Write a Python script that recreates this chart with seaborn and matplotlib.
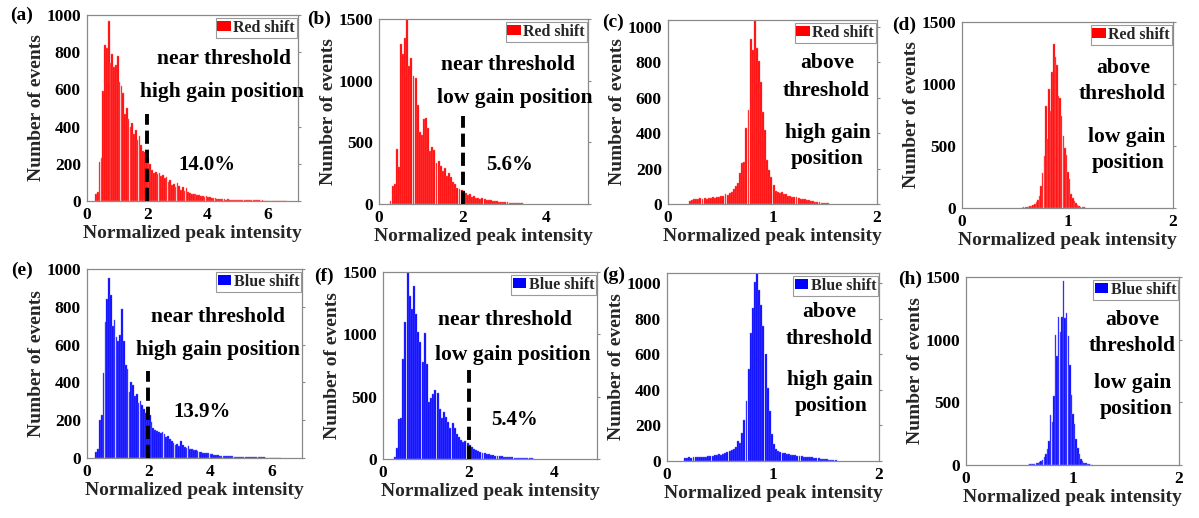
import numpy as np
import pandas as pd
import matplotlib
matplotlib.use("Agg")
import matplotlib.pyplot as plt
from matplotlib.patches import Patch
import seaborn as sns

# ---------------------------------------------------------------------------
# Histogram data: first bin centre, bin width and counts per bin for each panel
# ---------------------------------------------------------------------------
a_start, a_width = 0.30, 0.06
a_counts = [40, 48, 210, 230, 590, 840, 820, 970, 740, 790, 720, 730, 780, 640,
            620, 580, 470, 500, 440, 400, 420, 360, 380, 330, 350, 300, 270, 265,
            245, 230, 200, 165, 150, 155, 145, 150, 135, 140, 125, 130, 100, 115,
            85, 90, 75, 95, 80, 60, 75, 55, 70, 50, 45, 40, 38, 35, 30, 32, 25,
            28, 22, 25, 20, 22, 18, 15, 16, 12, 13, 10, 10, 9, 8, 9, 7, 8, 6, 7,
            6, 5, 6, 5, 4, 5, 4, 4, 3, 4, 3, 3, 3, 2, 3, 2, 2, 2, 2, 1, 2, 1, 1,
            1, 1, 1, 1, 1]

b_start, b_width = 0.275, 0.05
b_counts = [25, 150, 160, 450, 300, 1300, 1220, 1350, 1500, 1120, 1180, 1040,
            1020, 800, 580, 560, 690, 700, 620, 430, 460, 440, 330, 350, 310,
            270, 290, 230, 250, 220, 180, 160, 130, 120, 115, 100, 90, 75, 80,
            60, 65, 50, 52, 42, 45, 38, 35, 30, 32, 26, 25, 22, 20, 18, 17, 14,
            14, 12, 11, 9, 9, 7, 6, 5]

c_start, c_width = 0.21, 0.02
c_counts = [18, 25, 28, 30, 27, 32, 30, 35, 28, 34, 33, 38, 36, 42, 40, 48, 45,
            55, 52, 62, 70, 85, 100, 120, 175, 230, 240, 430, 530, 930, 870,
            1060, 880, 810, 690, 520, 420, 250, 190, 150, 105, 75, 70, 62, 68,
            55, 58, 48, 45, 42, 40, 38, 35, 30, 28, 26, 22, 20, 17, 15, 13, 11,
            10, 8, 6, 5, 3]

d_start, d_width = 0.57, 0.015
d_counts = [4, 5, 6, 8, 10, 14, 18, 25, 35, 45, 65, 95, 180, 280, 420, 820, 560,
            960, 780, 1100, 1320, 1220, 1150, 900, 890, 740, 580, 480, 430, 290,
            230, 110, 80, 55, 40, 25, 18, 12, 8, 5, 3]

e_start, e_width = 0.30, 0.06
e_counts = [30, 45, 200, 225, 450, 720, 840, 950, 860, 700, 730, 640, 620, 650,
            790, 620, 490, 470, 350, 400, 385, 330, 340, 290, 300, 280, 260, 240,
            220, 225, 190, 160, 150, 145, 140, 130, 135, 125, 110, 115, 100, 90,
            80, 70, 75, 65, 92, 70, 60, 55, 65, 50, 45, 40, 42, 35, 33, 30, 28,
            26, 24, 25, 20, 22, 18, 16, 15, 13, 12, 11, 10, 9, 9, 8, 8, 7, 7, 6,
            6, 6, 5, 5, 5, 4, 4, 4, 4, 3, 3, 3, 3, 3, 2, 2, 2, 2, 2, 2, 1, 1, 1]

f_start, f_width = 0.275, 0.05
f_counts = [20, 90, 320, 330, 800, 1100, 1500, 1310, 1200, 1390, 1160, 1020, 940,
            780, 1010, 760, 460, 490, 520, 550, 530, 400, 330, 380, 340, 300,
            250, 290, 250, 200, 180, 150, 140, 145, 130, 110, 95, 80, 75, 62, 58,
            50, 45, 40, 38, 33, 30, 28, 26, 24, 22, 20, 18, 16, 15, 13, 12, 11,
            10, 9, 8, 7, 7, 6, 5, 4]

g_start, g_width = 0.17, 0.02
g_counts = [15, 18, 20, 18, 22, 20, 22, 24, 22, 25, 24, 27, 26, 30, 32, 35, 38,
            36, 42, 45, 48, 55, 60, 70, 80, 112, 100, 160, 230, 340, 520, 720,
            860, 1010, 1060, 960, 880, 760, 600, 410, 280, 150, 95, 70, 55, 50,
            45, 44, 42, 40, 36, 35, 33, 30, 28, 27, 25, 24, 22, 21, 20, 19, 17,
            16, 14, 13, 12, 10, 8, 6, 5, 3]

h_start, h_width = 0.585, 0.015
h_counts = [3, 5, 6, 8, 10, 13, 17, 24, 30, 42, 60, 85, 130, 190, 400, 340, 550,
            1040, 870, 1180, 1060, 1180, 1470, 1170, 1210, 1030, 800, 560, 410,
            330, 210, 135, 85, 50, 28, 18, 12, 8, 5, 3, 2]

# Threshold marker (x = 2) and the height it is drawn to in the near-threshold panels
threshold_x = 2.0
threshold_top = {"a": 470, "b": 710, "e": 460, "f": 714}

# Fraction of events above the threshold
above_pct = {"a": "14.0%", "b": "5.6%", "e": "13.9%", "f": "5.4%"}

series_names = {"red": "Red shift", "blue": "Blue shift"}
x_label = "Normalized peak intensity"
y_label = "Number of events"

# ---------------------------------------------------------------------------
# Styling
# ---------------------------------------------------------------------------
sns.set_style("white")
plt.rcParams["font.family"] = ["Liberation Serif", "DejaVu Serif"]
plt.rcParams["font.weight"] = "bold"
plt.rcParams["axes.labelweight"] = "bold"

W, H = 1199, 518
fig = plt.figure(figsize=(W / 100, H / 100), dpi=100)


def fig_box(left, top, right, bottom):
    return [left / W, 1 - bottom / H, (right - left) / W, (bottom - top) / H]


def fig_text(x, y, s, size=15.5, **kw):
    fig.text(x / W, 1 - y / H, s, ha="center", va="center", fontsize=size,
             fontweight="bold", color="black", **kw)


panels = [
    # key, start, width, counts, colour, edge tint, series, xlim, xticks, ylim, yticks, box
    ("a", a_start, a_width, a_counts, "#ff0000", "#ff7070", "red", (0, 7),
     [0, 2, 4, 6], (0, 1000), [0, 200, 400, 600, 800, 1000], (87, 15, 298, 201)),
    ("b", b_start, b_width, b_counts, "#ff0000", "#ff7070", "red", (0, 5),
     [0, 2, 4], (0, 1500), [0, 500, 1000, 1500], (379, 19, 588, 204)),
    ("c", c_start, c_width, c_counts, "#ff0000", "#ff7070", "red", (0, 2),
     [0, 1, 2], (0, 1040), [0, 200, 400, 600, 800, 1000], (668, 20, 877, 204)),
    ("d", d_start, d_width, d_counts, "#ff0000", "#ff7070", "red", (0, 2),
     [0, 1, 2], (0, 1500), [0, 500, 1000, 1500], (962, 22, 1173, 208)),
    ("e", e_start, e_width, e_counts, "#0000ff", "#7070ff", "blue", (0, 7),
     [0, 2, 4, 6], (0, 1000), [0, 200, 400, 600, 800, 1000], (87, 269, 302, 458)),
    ("f", f_start, f_width, f_counts, "#0000ff", "#7070ff", "blue", (0, 5),
     [0, 2, 4], (0, 1500), [0, 500, 1000, 1500], (383, 272, 597, 459)),
    ("g", g_start, g_width, g_counts, "#0000ff", "#7070ff", "blue", (0, 2),
     [0, 1, 2], (0, 1058), [0, 200, 400, 600, 800, 1000], (667, 273, 879, 461)),
    ("h", h_start, h_width, h_counts, "#0000ff", "#7070ff", "blue", (0, 2),
     [0, 1, 2], (0, 1500), [0, 500, 1000, 1500], (966, 277, 1179, 465)),
]

frame_color = "#8a8a8a"

for (key, start, width, counts, color, edge, series, xlim, xticks, ylim,
     yticks, box) in panels:
    ax = fig.add_axes(fig_box(*box))
    n = len(counts)
    centers = start + width * np.arange(n)
    edges = list(np.append(centers - width / 2, centers[-1] + width / 2))
    df = pd.DataFrame({"intensity": centers, "events": counts})
    sns.histplot(data=df, x="intensity", weights="events", bins=edges, ax=ax,
                 color=color, alpha=1.0, shrink=0.92, edgecolor=edge,
                 linewidth=0.3)

    if key in threshold_top:
        ax.plot([threshold_x, threshold_x], [0, threshold_top[key]],
                color="black", lw=2.8, dashes=(3.4, 1.5), solid_capstyle="butt",
                dash_capstyle="butt", zorder=5)

    ax.set_xlim(*xlim)
    ax.set_ylim(*ylim)
    ax.set_xticks(xticks)
    ax.set_yticks(yticks)
    ax.set_xticklabels([str(t) for t in xticks])
    ax.set_yticklabels([str(t) for t in yticks])
    ax.tick_params(direction="out", length=2.5, width=0.8, color=frame_color,
                   labelsize=12.5, pad=2, right=True, top=False,
                   labelcolor="black")
    for sp in ax.spines.values():
        sp.set_visible(True)
        sp.set_color(frame_color)
        sp.set_linewidth(0.9)
    ax.set_xlabel(x_label, fontsize=14, labelpad=1)
    ax.set_ylabel(y_label, fontsize=14, labelpad=1)

    leg = ax.legend(handles=[Patch(facecolor=color, edgecolor="none",
                                   label=series_names[series])],
                    loc="upper right", bbox_to_anchor=(0.995, 0.985),
                    handlelength=0.85, handleheight=0.55, handletextpad=0.15,
                    borderpad=0.12, borderaxespad=0.0, fancybox=False,
                    framealpha=1, prop={"size": 11.5, "weight": "bold"})
    leg.get_frame().set_edgecolor("#9a9a9a")
    leg.get_frame().set_linewidth(0.8)

# Panel letters
for s, x, y in [("(a)", 22, 15), ("(b)", 319, 19), ("(c)", 613, 22),
                ("(d)", 904, 25), ("(e)", 22, 270), ("(f)", 324, 276),
                ("(g)", 614, 275), ("(h)", 910, 279)]:
    fig_text(x, y, s, size=14)

# Condition annotations
fig_text(224, 59, "near threshold")
fig_text(222, 92, "high gain position")
fig_text(207, 165, above_pct["a"], size=15)

fig_text(508, 65, "near threshold")
fig_text(515, 98, "low gain position")
fig_text(510, 165, above_pct["b"], size=15)

fig_text(827, 63, "above")
fig_text(826, 91, "threshold")
fig_text(828, 133, "high gain")
fig_text(827, 159, "position")

fig_text(1123, 68, "above")
fig_text(1122, 94, "threshold")
fig_text(1127, 137, "low gain")
fig_text(1128, 163, "position")

fig_text(218, 317, "near threshold")
fig_text(218, 350, "high gain position")
fig_text(202, 412, above_pct["e"], size=15)

fig_text(505, 320, "near threshold")
fig_text(513, 355, "low gain position")
fig_text(515, 420, above_pct["f"], size=15)

fig_text(829, 312, "above")
fig_text(829, 339, "threshold")
fig_text(830, 380, "high gain")
fig_text(831, 406, "position")

fig_text(1132, 320, "above")
fig_text(1132, 346, "threshold")
fig_text(1133, 383, "low gain")
fig_text(1136, 409, "position")

fig.savefig("out.png", dpi=100, facecolor="white")
